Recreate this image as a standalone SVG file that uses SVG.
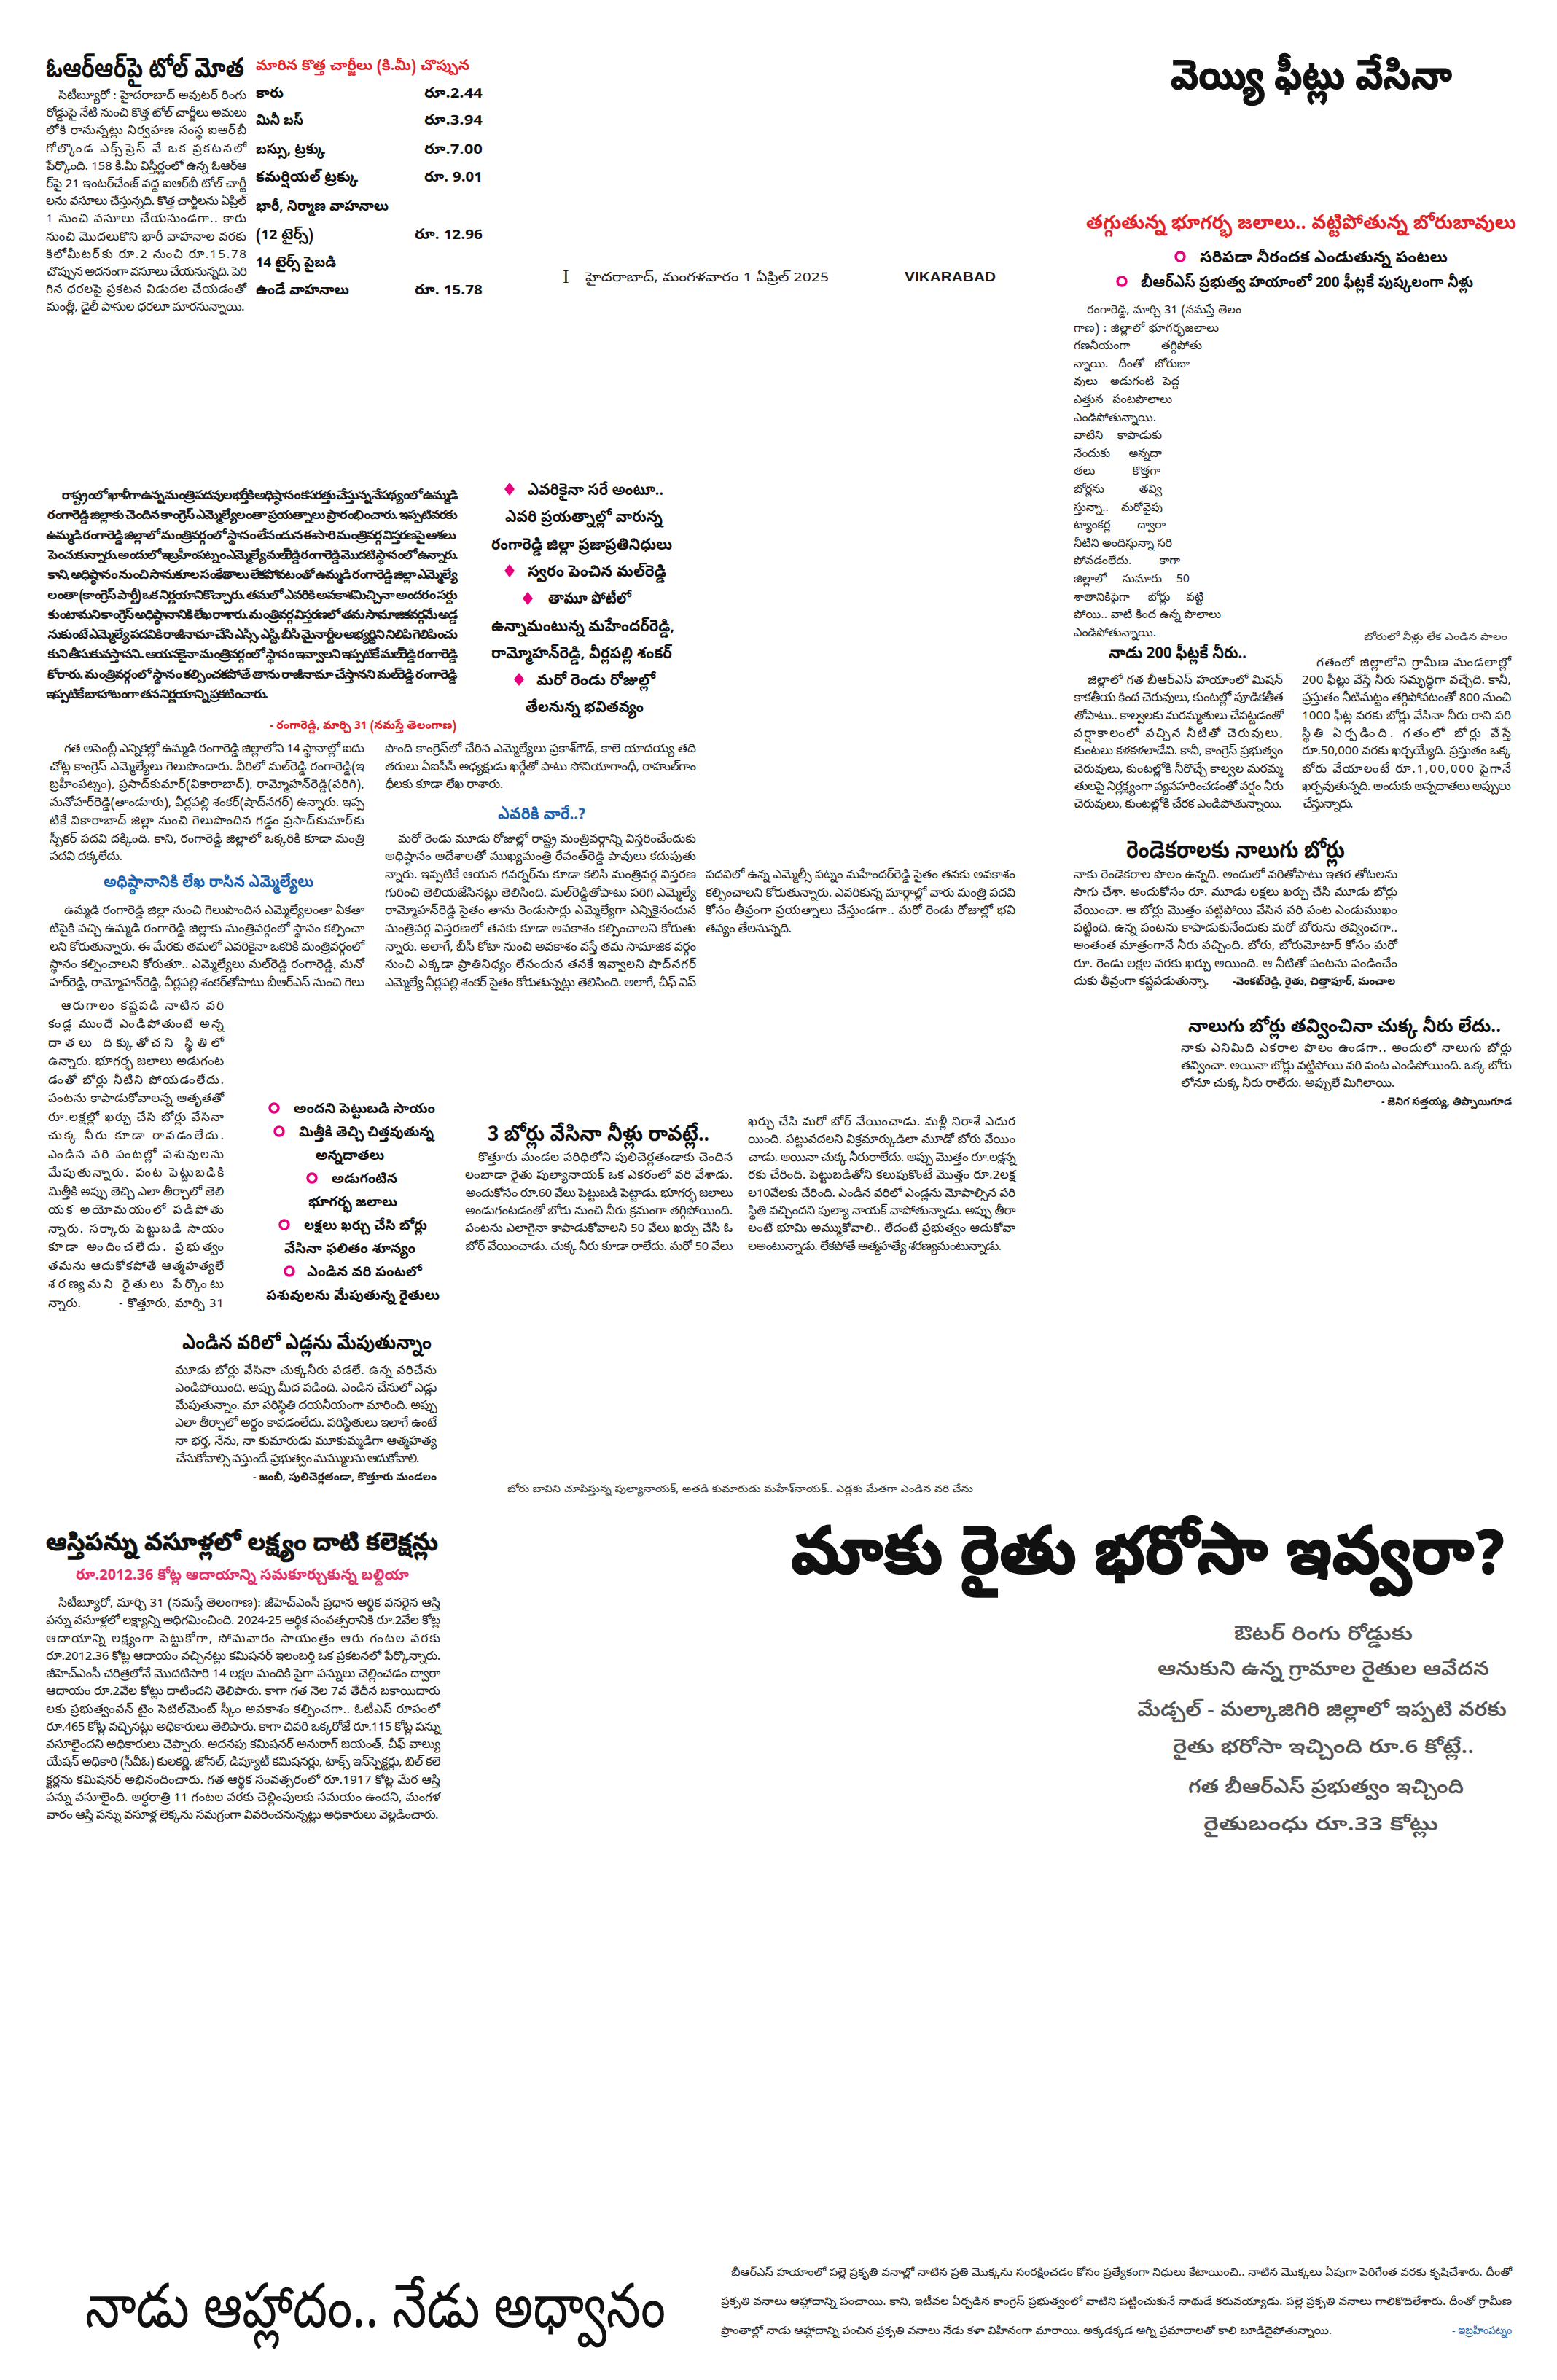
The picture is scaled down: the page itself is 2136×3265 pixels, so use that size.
<svg xmlns="http://www.w3.org/2000/svg" width="2136" height="3265" viewBox="0 0 2136 3265">
<style>
text{font-family:"Noto Sans Telugu","Noto Serif Telugu","Noto Sans",sans-serif;fill:#1c1c1c}
.hd{font-weight:700;fill:#111}
.hv{stroke:#111;stroke-width:1.2}
.bd{font-size:17px}
.nb{font-size:16px;fill:#333}
.bb{font-size:17.5px;font-weight:700}
.red{fill:#e3242b;font-weight:700}
.pink{fill:#e5336a;font-weight:700}
.blue{fill:#1b62b0;font-weight:700}
.gray{fill:#555;font-size:27px;font-weight:600}
.tb{font-size:20px;font-weight:700;fill:#111}
.bl{font-size:22px;font-weight:700;fill:#111}
.bl2{font-size:19.5px;font-weight:700;fill:#111}
.sg{font-size:15px;font-weight:700}
.cap{font-size:14px;fill:#333}
.dia{fill:#e6007e}
.cir{fill:none;stroke:#e6007e;stroke-width:3.5}
.e{text-anchor:end}
.m{text-anchor:middle}
</style>
<rect width="2136" height="3265" fill="#fff"/>

<g id="orr-toll">
<text class="hd" transform="translate(63,106) scale(1,1.35)" font-size="28" textLength="272" lengthAdjust="spacingAndGlyphs">ఓఆర్‌ఆర్‌పై టోల్ మోత</text>
<text class="red" x="351" y="96" font-size="20" textLength="293" lengthAdjust="spacingAndGlyphs">మారిన కొత్త చార్జీలు (కి.మీ) చొప్పున</text>
<g id="orr-table">
<text class="tb" x="351" y="134" textLength="38" lengthAdjust="spacingAndGlyphs">కారు</text>
<text class="tb" x="582" y="134" textLength="80" lengthAdjust="spacingAndGlyphs">రూ.2.44</text>
<text class="tb" x="351" y="171" textLength="65" lengthAdjust="spacingAndGlyphs">మినీ బస్</text>
<text class="tb" x="582" y="171" textLength="80" lengthAdjust="spacingAndGlyphs">రూ.3.94</text>
<text class="tb" x="351" y="211" textLength="95" lengthAdjust="spacingAndGlyphs">బస్సు, ట్రక్కు</text>
<text class="tb" x="582" y="211" textLength="80" lengthAdjust="spacingAndGlyphs">రూ.7.00</text>
<text class="tb" x="351" y="249" textLength="140" lengthAdjust="spacingAndGlyphs">కమర్షియల్ ట్రక్కు</text>
<text class="tb" x="582" y="249" textLength="80" lengthAdjust="spacingAndGlyphs">రూ. 9.01</text>
<text class="tb" x="351" y="289" textLength="182" lengthAdjust="spacingAndGlyphs">భారీ, నిర్మాణ వాహనాలు</text>
<text class="tb" x="351" y="328" textLength="79" lengthAdjust="spacingAndGlyphs">(12 టైర్స్)</text>
<text class="tb" x="569" y="328" textLength="93" lengthAdjust="spacingAndGlyphs">రూ. 12.96</text>
<text class="tb" x="351" y="366" textLength="110" lengthAdjust="spacingAndGlyphs">14 టైర్స్ పైబడి</text>
<text class="tb" x="351" y="404" textLength="128" lengthAdjust="spacingAndGlyphs">ఉండే వాహనాలు</text>
<text class="tb" x="569" y="404" textLength="93" lengthAdjust="spacingAndGlyphs">రూ. 15.78</text>
</g>
<g id="orr-body" class="bd">
<text x="80" y="136" textLength="258" lengthAdjust="spacing">సిటీబ్యూరో : హైదరాబాద్ అవుటర్ రింగు</text>
<text x="63" y="160" textLength="275" lengthAdjust="spacing">రోడ్డుపై నేటి నుంచి కొత్త టోల్ చార్జీలు అమలు</text>
<text x="63" y="184" textLength="275" lengthAdjust="spacing">లోకి రానున్నట్లు నిర్వహణ సంస్థ ఐఆర్‌బీ</text>
<text x="63" y="209" textLength="275" lengthAdjust="spacing">గోల్కొండ ఎక్స్‌ప్రెస్ వే ఒక ప్రకటనలో</text>
<text x="63" y="233" textLength="275" lengthAdjust="spacing">పేర్కొంది. 158 కి.మీ విస్తీర్ణంలో ఉన్న ఓఆర్‌ఆ</text>
<text x="63" y="257" textLength="275" lengthAdjust="spacing">ర్‌పై 21 ఇంటర్‌చేంజ్ వద్ద ఐఆర్‌బీ టోల్ చార్జీ</text>
<text x="63" y="281" textLength="275" lengthAdjust="spacing">లను వసూలు చేస్తున్నది. కొత్త చార్జీలను ఏప్రిల్</text>
<text x="63" y="305" textLength="275" lengthAdjust="spacing">1 నుంచి వసూలు చేయనుండగా.. కారు</text>
<text x="63" y="330" textLength="275" lengthAdjust="spacing">నుంచి మొదలుకొని భారీ వాహనాల వరకు</text>
<text x="63" y="354" textLength="275" lengthAdjust="spacing">కిలోమీటర్‌కు రూ.2 నుంచి రూ.15.78</text>
<text x="63" y="378" textLength="275" lengthAdjust="spacing">చొప్పున అదనంగా వసూలు చేయనున్నది. పెరి</text>
<text x="63" y="402" textLength="275" lengthAdjust="spacing">గిన ధరలపై ప్రకటన విడుదల చేయడంతో</text>
<text x="63" y="426" textLength="272" lengthAdjust="spacing">మంత్లీ, డైలీ పాసుల ధరలూ మారనున్నాయి.</text>
</g>
</g>

<g id="masthead">
<text x="772" y="388" font-size="26" style="font-family:'Liberation Serif',serif">I</text>
<text x="803" y="386" font-size="18" textLength="334" lengthAdjust="spacingAndGlyphs">హైదరాబాద్, మంగళవారం 1 ఏప్రిల్ 2025</text>
<text x="1241" y="386" font-size="19" textLength="125" lengthAdjust="spacingAndGlyphs" style="font-family:'Liberation Sans',sans-serif;font-weight:700">VIKARABAD</text>
</g>

<g id="vikarabad-borewells">
<text class="hd hv" x="1606" y="122" font-size="56" textLength="386" lengthAdjust="spacingAndGlyphs">వెయ్యి ఫీట్లు వేసినా</text>
<text class="red" x="1490" y="314" font-size="27" textLength="590" lengthAdjust="spacingAndGlyphs">తగ్గుతున్న భూగర్భ జలాలు.. వట్టిపోతున్న బోరుబావులు</text>
<circle class="cir" cx="1619" cy="352" r="6"/>
<text class="bl" x="1646" y="360" font-size="21" textLength="340" lengthAdjust="spacingAndGlyphs">సరిపడా నీరందక ఎండుతున్న పంటలు</text>
<circle class="cir" cx="1539" cy="386" r="6"/>
<text class="bl" x="1565" y="394" font-size="21" textLength="456" lengthAdjust="spacingAndGlyphs">బీఆర్ఎస్ ప్రభుత్వ హయాంలో 200 ఫీట్లకే పుష్కలంగా నీళ్లు</text>
<g id="vik-narrow" class="nb">
<text x="1491" y="430" textLength="212" lengthAdjust="spacing">రంగారెడ్డి, మార్చి 31 (నమస్తే తెలం</text>
<text x="1473" y="455" textLength="199" lengthAdjust="spacing">గాణ) : జిల్లాలో భూగర్భజలాలు</text>
<text x="1473" y="479">గణనీయంగా</text><text class="e" x="1649" y="479">తగ్గిపోతు</text>
<text x="1473" y="504">న్నాయి.</text><text class="m" x="1552" y="504">దీంతో</text><text class="e" x="1632" y="504">బోరుబా</text>
<text x="1473" y="528">వులు</text><text class="m" x="1553" y="528">అడుగంటి</text><text class="e" x="1618" y="528">పెద్ద</text>
<text x="1473" y="553">ఎత్తున</text><text class="e" x="1608" y="553">పంటపొలాలు</text>
<text x="1473" y="578">ఎండిపోతున్నాయి.</text>
<text x="1473" y="602">వాటిని</text><text class="e" x="1594" y="602">కాపాడుకు</text>
<text x="1473" y="627">నేందుకు</text><text class="e" x="1594" y="627">అన్నదా</text>
<text x="1473" y="651">తలు</text><text class="e" x="1592" y="651">కొత్తగా</text>
<text x="1473" y="676">బోర్లను</text><text class="e" x="1594" y="676">తవ్వి</text>
<text x="1473" y="701">స్తున్నా..</text><text class="e" x="1595" y="701">మరోవైపు</text>
<text x="1473" y="725">ట్యాంకర్ల</text><text class="e" x="1599" y="725">ద్వారా</text>
<text x="1473" y="750" textLength="135" lengthAdjust="spacing">నీటిని అందిస్తున్నా సరి</text>
<text x="1473" y="774">పోవడంలేదు.</text><text class="e" x="1619" y="774">కాగా</text>
<text x="1473" y="799">జిల్లాలో</text><text class="m" x="1567" y="799">సుమారు</text><text class="e" x="1632" y="799">50</text>
<text x="1473" y="824">శాతానికిపైగా</text><text class="m" x="1590" y="824">బోర్లు</text><text class="e" x="1651" y="824">వట్టి</text>
<text x="1473" y="848" textLength="202" lengthAdjust="spacing">పోయి.. వాటి కింద ఉన్న పొలాలు</text>
<text x="1473" y="873">ఎండిపోతున్నాయి.</text>
</g>
<text class="cap" x="1871" y="878" textLength="197" lengthAdjust="spacingAndGlyphs">బోరులో నీళ్లు లేక ఎండిన పాలం</text>
<text class="hd" x="1521" y="903" font-size="23" textLength="189" lengthAdjust="spacingAndGlyphs">నాడు 200 ఫీట్లకే నీరు..</text>
<g id="vik-left" class="bd">
<text x="1492" y="938" textLength="268" lengthAdjust="spacing">జిల్లాలో గత బీఆర్ఎస్ హయాంలో మిషన్</text>
<text x="1473" y="962" textLength="287" lengthAdjust="spacing">కాకతీయ కింద చెరువులు, కుంటల్లో పూడికతీత</text>
<text x="1473" y="987" textLength="287" lengthAdjust="spacing">తోపాటు.. కాల్వలకు మరమ్మతులు చేపట్టడంతో</text>
<text x="1473" y="1011" textLength="287" lengthAdjust="spacing">వర్షాకాలంలో వచ్చిన నీటితో చెరువులు,</text>
<text x="1473" y="1035" textLength="287" lengthAdjust="spacing">కుంటలు కళకళలాడేవి. కానీ, కాంగ్రెస్ ప్రభుత్వం</text>
<text x="1473" y="1060" textLength="287" lengthAdjust="spacing">చెరువులు, కుంటల్లోకి నీరొచ్చే కాల్వల మరమ్మ</text>
<text x="1473" y="1084" textLength="287" lengthAdjust="spacing">తులపై నిర్లక్ష్యంగా వ్యవహరించడంతో వర్షం నీరు</text>
<text x="1473" y="1108" textLength="285" lengthAdjust="spacing">చెరువులు, కుంటల్లోకి చేరక ఎండిపోతున్నాయి.</text>
</g>
<g id="vik-right" class="bd">
<text x="1806" y="914" textLength="267" lengthAdjust="spacing">గతంలో జిల్లాలోని గ్రామీణ మండలాల్లో</text>
<text x="1786" y="938" textLength="287" lengthAdjust="spacing">200 ఫీట్లు వేస్తే నీరు సమృద్ధిగా వచ్చేది. కానీ,</text>
<text x="1786" y="962" textLength="287" lengthAdjust="spacing">ప్రస్తుతం నీటిమట్టం తగ్గిపోవటంతో 800 నుంచి</text>
<text x="1786" y="987" textLength="287" lengthAdjust="spacing">1000 ఫీట్ల వరకు బోర్లు వేసినా నీరు రాని పరి</text>
<text x="1786" y="1011" textLength="287" lengthAdjust="spacing">స్థితి ఏర్పడింది. గతంలో బోర్లు వేస్తే</text>
<text x="1786" y="1035" textLength="287" lengthAdjust="spacing">రూ.50,000 వరకు ఖర్చయ్యేది. ప్రస్తుతం ఒక్క</text>
<text x="1786" y="1060" textLength="287" lengthAdjust="spacing">బోరు వేయాలంటే రూ.1,00,000 పైగానే</text>
<text x="1786" y="1084" textLength="287" lengthAdjust="spacing">ఖర్చవుతున్నది. అందుకు అన్నదాతలు అప్పులు</text>
<text x="1786" y="1108" textLength="69" lengthAdjust="spacing">చేస్తున్నారు.</text>
</g>
<g id="rendekaralu">
<text class="hd" x="1545" y="1177" font-size="33" textLength="300" lengthAdjust="spacingAndGlyphs">రెండెకరాలకు నాలుగు బోర్లు</text>
<g class="bd">
<text x="1473" y="1205" textLength="444" lengthAdjust="spacing">నాకు రెండెకరాల పొలం ఉన్నది. అందులో వరితోపాటు ఇతర తోటలను</text>
<text x="1473" y="1229" textLength="444" lengthAdjust="spacing">సాగు చేశా. అందుకోసం రూ. మూడు లక్షలు ఖర్చు చేసి మూడు బోర్లు</text>
<text x="1473" y="1254" textLength="444" lengthAdjust="spacing">వేయించా. ఆ బోర్లు మొత్తం వట్టిపోయి వేసిన వరి పంట ఎండుముఖం</text>
<text x="1473" y="1278" textLength="444" lengthAdjust="spacing">పట్టింది. ఉన్న పంటను కాపాడుకునేందుకు మరో బోరును తవ్వించగా..</text>
<text x="1473" y="1302" textLength="444" lengthAdjust="spacing">అంతంత మాత్రంగానే నీరు వచ్చింది. బోరు, బోరుమోటార్ కోసం మరో</text>
<text x="1473" y="1327" textLength="444" lengthAdjust="spacing">రూ. రెండు లక్షల వరకు ఖర్చు అయింది. ఆ నీటితో పంటను పండించేం</text>
<text x="1473" y="1351" textLength="185" lengthAdjust="spacing">దుకు తీవ్రంగా కష్టపడుతున్నా.</text>
</g>
<text class="sg" x="1691" y="1351" textLength="223" lengthAdjust="spacingAndGlyphs">-వెంకట్‌రెడ్డి, రైతు, చిత్తాపూర్, మంచాల</text>
</g>
<g id="nalugu-borlu">
<text class="hd" x="1630" y="1416" font-size="26" textLength="429" lengthAdjust="spacingAndGlyphs">నాలుగు బోర్లు తవ్వించినా చుక్క నీరు లేదు..</text>
<g class="bd">
<text x="1620" y="1443" textLength="454" lengthAdjust="spacing">నాకు ఎనిమిది ఎకరాల పొలం ఉండగా.. అందులో నాలుగు బోర్లు</text>
<text x="1620" y="1467" textLength="454" lengthAdjust="spacing">తవ్వించా. అయినా బోర్లు వట్టిపోయి వరి పంట ఎండిపోయింది. ఒక్క బోరు</text>
<text x="1620" y="1491" textLength="293" lengthAdjust="spacing">లోనూ చుక్క నీరు రాలేదు. అప్పులే మిగిలాయి.</text>
</g>
<text class="sg" x="1895" y="1516" textLength="179" lengthAdjust="spacingAndGlyphs">- జెనిగ సత్తయ్య, తిప్పాయిగూడ</text>
</g>
</g>

<g id="ministers">
<g id="min-intro" class="bb">
<text x="82" y="685" textLength="544" lengthAdjust="spacing">రాష్ట్రంలో ఖాళీగా ఉన్న మంత్రి పదవుల భర్తీకి అధిష్ఠానం కసరత్తు చేస్తున్న నేపథ్యంలో ఉమ్మడి</text>
<text x="63" y="712" textLength="563" lengthAdjust="spacing">రంగారెడ్డి జిల్లాకు చెందిన కాంగ్రెస్ ఎమ్మెల్యేలంతా ప్రయత్నాలు ప్రారంభించారు. ఇప్పటివరకు</text>
<text x="63" y="740" textLength="563" lengthAdjust="spacing">ఉమ్మడి రంగారెడ్డి జిల్లాలో మంత్రివర్గంలో స్థానం లేనందున ఈసారి మంత్రివర్గ విస్తరణపై ఆశలు</text>
<text x="63" y="767" textLength="563" lengthAdjust="spacing">పెంచుకున్నారు. అందులో ఇబ్రహీంపట్నం ఎమ్మెల్యే మల్‌రెడ్డి రంగారెడ్డి మొదటి స్థానంలో ఉన్నారు.</text>
<text x="63" y="794" textLength="563" lengthAdjust="spacing">కాని, అధిష్ఠానం నుంచి సానుకూల సంకేతాలు లేకపోవటంతో ఉమ్మడి రంగారెడ్డి జిల్లా ఎమ్మెల్యే</text>
<text x="63" y="822" textLength="563" lengthAdjust="spacing">లంతా (కాంగ్రెస్ పార్టీ) ఒక నిర్ణయానికొచ్చారు. తమలో ఎవరికి అవకాశమిచ్చినా అందరం సర్దు</text>
<text x="63" y="849" textLength="563" lengthAdjust="spacing">కుంటామని కాంగ్రెస్ అధిష్ఠానానికి లేఖ రాశారు. మంత్రివర్గ విస్తరణలో తమ సామాజికవర్గమే అడ్డ</text>
<text x="63" y="876" textLength="563" lengthAdjust="spacing">నుకుంటే ఎమ్మెల్యే పదవికి రాజీనామా చేసి ఎస్సీ, ఎస్టీ, బీసీ మైనార్టీల అభ్యర్థిని నిలిపి గెలిపించు</text>
<text x="63" y="903" textLength="563" lengthAdjust="spacing">కుని తీసుకువస్తానని.. ఆయనకైనా మంత్రివర్గంలో స్థానం ఇవ్వాలని ఇప్పటికే మల్‌రెడ్డి రంగారెడ్డి</text>
<text x="63" y="931" textLength="563" lengthAdjust="spacing">కోరారు. మంత్రివర్గంలో స్థానం కల్పించకపోతే తాను రాజీనామా చేస్తానని మల్‌రెడ్డి రంగారెడ్డి</text>
<text x="63" y="958" textLength="305" lengthAdjust="spacing">ఇప్పటికే బాహాటంగా తన నిర్ణయాన్ని ప్రకటించారు.</text>
</g>
<text class="red" x="370" y="1000" font-size="16" textLength="256" lengthAdjust="spacingAndGlyphs">- రంగారెడ్డి, మార్చి 31 (నమస్తే తెలంగాణ)</text>
<g id="min-bullets">
<polygon class="dia" points="699,662 706,671 699,680 692,671"/>
<text class="bl" x="724" y="679" textLength="186" lengthAdjust="spacingAndGlyphs">ఎవరికైనా సరే అంటూ..</text>
<text class="bl" x="693" y="716" textLength="216" lengthAdjust="spacingAndGlyphs">ఎవరి ప్రయత్నాల్లో వారున్న</text>
<text class="bl" x="674" y="754" textLength="248" lengthAdjust="spacingAndGlyphs">రంగారెడ్డి జిల్లా ప్రజాప్రతినిధులు</text>
<polygon class="dia" points="699,774 706,783 699,792 692,783"/>
<text class="bl" x="724" y="791" textLength="190" lengthAdjust="spacingAndGlyphs">స్వరం పెంచిన మల్‌రెడ్డి</text>
<polygon class="dia" points="724,812 731,821 724,830 717,821"/>
<text class="bl" x="752" y="828" textLength="114" lengthAdjust="spacingAndGlyphs">తామూ పోటీలో</text>
<text class="bl" x="674" y="866" textLength="251" lengthAdjust="spacingAndGlyphs">ఉన్నామంటున్న మహేందర్‌రెడ్డి,</text>
<text class="bl" x="674" y="903" textLength="248" lengthAdjust="spacingAndGlyphs">రామ్మోహన్‌రెడ్డి, వీర్లపల్లి శంకర్</text>
<polygon class="dia" points="712,923 719,932 712,941 705,932"/>
<text class="bl" x="736" y="940" textLength="163" lengthAdjust="spacingAndGlyphs">మరో రెండు రోజుల్లో</text>
<text class="bl" x="721" y="977" textLength="162" lengthAdjust="spacingAndGlyphs">తేలనున్న భవితవ్యం</text>
</g>
<g id="min-col1" class="bd">
<text x="88" y="1032" textLength="412" lengthAdjust="spacing">గత అసెంబ్లీ ఎన్నికల్లో ఉమ్మడి రంగారెడ్డి జిల్లాలోని 14 స్థానాల్లో ఐదు</text>
<text x="68" y="1057" textLength="432" lengthAdjust="spacing">చోట్ల కాంగ్రెస్ ఎమ్మెల్యేలు గెలుపొందారు. వీరిలో మల్‌రెడ్డి రంగారెడ్డి(ఇ</text>
<text x="68" y="1081" textLength="432" lengthAdjust="spacing">బ్రహీంపట్నం), ప్రసాద్‌కుమార్(వికారాబాద్), రామ్మోహన్‌రెడ్డి(పరిగి),</text>
<text x="68" y="1106" textLength="432" lengthAdjust="spacing">మనోహర్‌రెడ్డి(తాండూరు), వీర్లపల్లి శంకర్(షాద్‌నగర్) ఉన్నారు. ఇప్ప</text>
<text x="68" y="1131" textLength="432" lengthAdjust="spacing">టికే వికారాబాద్ జిల్లా నుంచి గెలుపొందిన గడ్డం ప్రసాద్‌కుమార్‌కు</text>
<text x="68" y="1156" textLength="432" lengthAdjust="spacing">స్పీకర్ పదవి దక్కింది. కాని, రంగారెడ్డి జిల్లాలో ఒక్కరికి కూడా మంత్రి</text>
<text x="68" y="1180" textLength="100" lengthAdjust="spacing">పదవి దక్కలేదు.</text>
<text class="blue" x="142" y="1217" font-size="23" textLength="288" lengthAdjust="spacingAndGlyphs">అధిష్ఠానానికి లేఖ రాసిన ఎమ్మెల్యేలు</text>
<text x="88" y="1254" textLength="412" lengthAdjust="spacing">ఉమ్మడి రంగారెడ్డి జిల్లా నుంచి గెలుపొందిన ఎమ్మెల్యేలంతా ఏకతా</text>
<text x="68" y="1279" textLength="432" lengthAdjust="spacing">టిపైకి వచ్చి ఉమ్మడి రంగారెడ్డి జిల్లాకు మంత్రివర్గంలో స్థానం కల్పించా</text>
<text x="68" y="1304" textLength="432" lengthAdjust="spacing">లని కోరుతున్నారు. ఈ మేరకు తమలో ఎవరికైనా ఒకరికి మంత్రివర్గంలో</text>
<text x="68" y="1328" textLength="432" lengthAdjust="spacing">స్థానం కల్పించాలని కోరుతూ.. ఎమ్మెల్యేలు మల్‌రెడ్డి రంగారెడ్డి, మనో</text>
<text x="68" y="1353" textLength="432" lengthAdjust="spacing">హర్‌రెడ్డి, రామ్మోహన్‌రెడ్డి, వీర్లపల్లి శంకర్‌తోపాటు బీఆర్ఎస్ నుంచి గెలు</text>
</g>
<g id="min-col2" class="bd">
<text x="528" y="1032" textLength="427" lengthAdjust="spacing">పొంది కాంగ్రెస్‌లో చేరిన ఎమ్మెల్యేలు ప్రకాశ్‌గౌడ్, కాలె యాదయ్య తది</text>
<text x="528" y="1057" textLength="427" lengthAdjust="spacing">తరులు ఏఐసీసీ అధ్యక్షుడు ఖర్గేతో పాటు సోనియాగాంధీ, రాహుల్‌గాం</text>
<text x="528" y="1081" textLength="162" lengthAdjust="spacing">ధీలకు కూడా లేఖ రాశారు.</text>
<text class="blue" x="683" y="1124" font-size="23" textLength="120" lengthAdjust="spacingAndGlyphs">ఎవరికి వారే..?</text>
<text x="546" y="1156" textLength="409" lengthAdjust="spacing">మరో రెండు మూడు రోజుల్లో రాష్ట్ర మంత్రివర్గాన్ని విస్తరించేందుకు</text>
<text x="528" y="1180" textLength="427" lengthAdjust="spacing">అధిష్ఠానం ఆదేశాలతో ముఖ్యమంత్రి రేవంత్‌రెడ్డి పావులు కదుపుతు</text>
<text x="528" y="1205" textLength="427" lengthAdjust="spacing">న్నారు. ఇప్పటికే ఆయన గవర్నర్‌ను కూడా కలిసి మంత్రివర్గ విస్తరణ</text>
<text x="528" y="1230" textLength="427" lengthAdjust="spacing">గురించి తెలియజేసినట్లు తెలిసింది. మల్‌రెడ్డితోపాటు పరిగి ఎమ్మెల్యే</text>
<text x="528" y="1254" textLength="427" lengthAdjust="spacing">రామ్మోహన్‌రెడ్డి సైతం తాను రెండుసార్లు ఎమ్మెల్యేగా ఎన్నికైనందున</text>
<text x="528" y="1279" textLength="427" lengthAdjust="spacing">మంత్రివర్గ విస్తరణలో తనకు కూడా అవకాశం కల్పించాలని కోరుతు</text>
<text x="528" y="1304" textLength="427" lengthAdjust="spacing">న్నారు. అలాగే, బీసీ కోటా నుంచి అవకాశం వస్తే తమ సామాజిక వర్గం</text>
<text x="528" y="1328" textLength="427" lengthAdjust="spacing">నుంచి ఎక్కడా ప్రాతినిధ్యం లేనందున తనకే ఇవ్వాలని షాద్‌నగర్</text>
<text x="528" y="1353" textLength="427" lengthAdjust="spacing">ఎమ్మెల్యే వీర్లపల్లి శంకర్ సైతం కోరుతున్నట్లు తెలిసింది. అలాగే, చీఫ్ విప్</text>
</g>
<g id="min-col3" class="bd">
<text x="968" y="1205" textLength="425" lengthAdjust="spacing">పదవిలో ఉన్న ఎమ్మెల్సీ పట్నం మహేందర్‌రెడ్డి సైతం తనకు అవకాశం</text>
<text x="968" y="1230" textLength="425" lengthAdjust="spacing">కల్పించాలని కోరుతున్నారు. ఎవరికున్న మార్గాల్లో వారు మంత్రి పదవి</text>
<text x="968" y="1254" textLength="425" lengthAdjust="spacing">కోసం తీవ్రంగా ప్రయత్నాలు చేస్తుండగా.. మరో రెండు రోజుల్లో భవి</text>
<text x="968" y="1279" textLength="118" lengthAdjust="spacing">తవ్యం తేలనున్నది.</text>
</g>
</g>

<g id="kothur-farmers">
<g id="kot-body" class="bd">
<text x="84" y="1385" textLength="223" lengthAdjust="spacing">ఆరుగాలం కష్టపడి నాటిన వరి</text>
<text x="66" y="1410" textLength="241" lengthAdjust="spacing">కండ్ల ముందే ఎండిపోతుంటే అన్న</text>
<text x="66" y="1436" textLength="241" lengthAdjust="spacing">దాతలు దిక్కుతోచని స్థితిలో</text>
<text x="66" y="1461" textLength="241" lengthAdjust="spacing">ఉన్నారు. భూగర్భ జలాలు అడుగంట</text>
<text x="66" y="1487" textLength="241" lengthAdjust="spacing">డంతో బోర్లు నీటిని పోయడంలేదు.</text>
<text x="66" y="1512" textLength="241" lengthAdjust="spacing">పంటను కాపాడుకోవాలన్న ఆతృతతో</text>
<text x="66" y="1538" textLength="241" lengthAdjust="spacing">రూ.లక్షల్లో ఖర్చు చేసి బోర్లు వేసినా</text>
<text x="66" y="1563" textLength="241" lengthAdjust="spacing">చుక్క నీరు కూడా రావడంలేదు.</text>
<text x="66" y="1589" textLength="241" lengthAdjust="spacing">ఎండిన వరి పంటల్లో పశువులను</text>
<text x="66" y="1614" textLength="241" lengthAdjust="spacing">మేపుతున్నారు. పంట పెట్టుబడికి</text>
<text x="66" y="1640" textLength="241" lengthAdjust="spacing">మిత్తీకి అప్పు తెచ్చి ఎలా తీర్చాలో తెలి</text>
<text x="66" y="1665" textLength="241" lengthAdjust="spacing">యక అయోమయంలో పడిపోతు</text>
<text x="66" y="1691" textLength="241" lengthAdjust="spacing">న్నారు. సర్కారు పెట్టుబడి సాయం</text>
<text x="66" y="1716" textLength="241" lengthAdjust="spacing">కూడా అందించలేదు. ప్రభుత్వం</text>
<text x="66" y="1742" textLength="241" lengthAdjust="spacing">తమను ఆదుకోకపోతే ఆత్మహత్యలే</text>
<text x="66" y="1767" textLength="241" lengthAdjust="spacing">శరణ్యమని రైతులు పేర్కొంటు</text>
<text x="66" y="1793" textLength="45" lengthAdjust="spacing">న్నారు.</text>
<text x="163" y="1793" textLength="144" lengthAdjust="spacing">- కొత్తూరు, మార్చి 31</text>
</g>
<g id="kot-bullets">
<circle class="cir" cx="376" cy="1520" r="6"/>
<text class="bl2" x="403" y="1527" textLength="194" lengthAdjust="spacingAndGlyphs">అందని పెట్టుబడి సాయం</text>
<circle class="cir" cx="383" cy="1552" r="6"/>
<text class="bl2" x="410" y="1559" textLength="185" lengthAdjust="spacingAndGlyphs">మిత్తీకి తెచ్చి చిత్తవుతున్న</text>
<text class="bl2" x="433" y="1591" textLength="94" lengthAdjust="spacingAndGlyphs">అన్నదాతలు</text>
<circle class="cir" cx="428" cy="1616" r="6"/>
<text class="bl2" x="455" y="1623" textLength="90" lengthAdjust="spacingAndGlyphs">అడుగంటిన</text>
<text class="bl2" x="423" y="1655" textLength="122" lengthAdjust="spacingAndGlyphs">భూగర్భ జలాలు</text>
<circle class="cir" cx="390" cy="1680" r="6"/>
<text class="bl2" x="417" y="1687" textLength="169" lengthAdjust="spacingAndGlyphs">లక్షలు ఖర్చు చేసి బోర్లు</text>
<text class="bl2" x="390" y="1719" textLength="180" lengthAdjust="spacingAndGlyphs">వేసినా ఫలితం శూన్యం</text>
<circle class="cir" cx="397" cy="1744" r="6"/>
<text class="bl2" x="421" y="1751" textLength="158" lengthAdjust="spacingAndGlyphs">ఎండిన వరి పంటలో</text>
<text class="bl2" x="365" y="1783" textLength="238" lengthAdjust="spacingAndGlyphs">పశువులను మేపుతున్న రైతులు</text>
</g>
<g id="three-bores">
<text class="hd" x="669" y="1565" font-size="30" textLength="304" lengthAdjust="spacingAndGlyphs">3 బోర్లు వేసినా నీళ్లు రావట్లే..</text>
<g class="bd">
<text x="656" y="1593" textLength="349" lengthAdjust="spacing">కొత్తూరు మండల పరిధిలోని పులిచెర్లతండాకు చెందిన</text>
<text x="638" y="1617" textLength="367" lengthAdjust="spacing">లంబాడా రైతు పుల్యానాయక్ ఒక ఎకరంలో వరి వేశాడు.</text>
<text x="638" y="1642" textLength="367" lengthAdjust="spacing">అందుకోసం రూ.60 వేలు పెట్టుబడి పెట్టాడు. భూగర్భ జలాలు</text>
<text x="638" y="1666" textLength="367" lengthAdjust="spacing">అండుగంటడంతో బోరు నుంచి నీరు క్రమంగా తగ్గిపోయింది.</text>
<text x="638" y="1690" textLength="367" lengthAdjust="spacing">పంటను ఎలాగైనా కాపాడుకోవాలని 50 వేలు ఖర్చు చేసి ఓ</text>
<text x="638" y="1715" textLength="367" lengthAdjust="spacing">బోర్ వేయించాడు. చుక్క నీరు కూడా రాలేదు. మరో 50 వేలు</text>
<text x="1026" y="1544" textLength="367" lengthAdjust="spacing">ఖర్చు చేసి మరో బోర్ వేయించాడు. మళ్లీ నిరాశే ఎదుర</text>
<text x="1026" y="1568" textLength="367" lengthAdjust="spacing">యింది. పట్టువదలని విక్రమార్కుడిలా మూడో బోరు వేయిం</text>
<text x="1026" y="1593" textLength="367" lengthAdjust="spacing">చాడు. అయినా చుక్క నీరురాలేదు. అప్పు మొత్తం రూ.లక్షన్న</text>
<text x="1026" y="1617" textLength="367" lengthAdjust="spacing">రకు చేరింది. పెట్టుబడితోని కలుపుకొంటే మొత్తం రూ.2లక్ష</text>
<text x="1026" y="1642" textLength="367" lengthAdjust="spacing">ల10వేలకు చేరింది. ఎండిన వరిలో ఎండ్లను మోపాల్సిన పరి</text>
<text x="1026" y="1666" textLength="367" lengthAdjust="spacing">స్థితి వచ్చిందని పుల్యా నాయక్ వాపోతున్నాడు. అప్పు తీరా</text>
<text x="1026" y="1690" textLength="367" lengthAdjust="spacing">లంటే భూమి అమ్ముకోవాలి.. లేదంటే ప్రభుత్వం ఆదుకోవా</text>
<text x="1026" y="1715" textLength="348" lengthAdjust="spacing">లఅంటున్నాడు. లేకపోతే ఆత్మహత్యే శరణ్యమంటున్నాడు.</text>
</g>
</g>
<g id="endina-varilo">
<text class="hd" x="250" y="1851" font-size="28" textLength="342" lengthAdjust="spacingAndGlyphs">ఎండిన వరిలో ఎడ్లను మేపుతున్నాం</text>
<g class="bd">
<text x="240" y="1885" textLength="359" lengthAdjust="spacing">మూడు బోర్లు వేసినా చుక్కనీరు పడలే. ఉన్న వరిచేను</text>
<text x="240" y="1909" textLength="359" lengthAdjust="spacing">ఎండిపోయింది. అప్పు మీద పడింది. ఎండిన చేనులో ఎడ్లు</text>
<text x="240" y="1933" textLength="359" lengthAdjust="spacing">మేపుతున్నాం. మా పరిస్థితి దయనీయంగా మారింది. అప్పు</text>
<text x="240" y="1957" textLength="359" lengthAdjust="spacing">ఎలా తీర్చాలో అర్థం కావడంలేదు. పరిస్థితులు ఇలాగే ఉంటే</text>
<text x="240" y="1982" textLength="359" lengthAdjust="spacing">నా భర్త, నేను, నా కుమారుడు మూకుమ్మడిగా ఆత్మహత్య</text>
<text x="240" y="2006" textLength="334" lengthAdjust="spacing">చేసుకోవాల్సి వస్తుందే. ప్రభుత్వం మమ్ములను ఆదుకోవాలి.</text>
</g>
<text class="sg" x="347" y="2031" textLength="252" lengthAdjust="spacingAndGlyphs">- జంబీ, పులిచెర్లతండా, కొత్తూరు మండలం</text>
</g>
<text class="cap" x="696" y="2047" textLength="639" lengthAdjust="spacingAndGlyphs">బోరు బావిని చూపిస్తున్న పుల్యానాయక్, అతడి కుమారుడు మహేశ్‌నాయక్.. ఎడ్లకు మేతగా ఎండిన వరి చేను</text>
</g>

<g id="property-tax">
<text class="hd hv" x="63" y="2127" font-size="34" textLength="538" lengthAdjust="spacingAndGlyphs" style="stroke-width:0.8">ఆస్తిపన్ను వసూళ్లలో లక్ష్యం దాటి కలెక్షన్లు</text>
<text class="pink" x="104" y="2167" font-size="21" textLength="457" lengthAdjust="spacingAndGlyphs">రూ.2012.36 కోట్ల ఆదాయాన్ని సమకూర్చుకున్న బల్దియా</text>
<g class="bd">
<text x="80" y="2204" textLength="524" lengthAdjust="spacing">సిటీబ్యూరో, మార్చి 31 (నమస్తే తెలంగాణ): జీహెచ్ఎంసీ ప్రధాన ఆర్థిక వనరైన ఆస్తి</text>
<text x="63" y="2228" textLength="541" lengthAdjust="spacing">పన్ను వసూళ్లలో లక్ష్యాన్ని అధిగమించింది. 2024-25 ఆర్థిక సంవత్సరానికి రూ.2వేల కోట్ల</text>
<text x="63" y="2253" textLength="541" lengthAdjust="spacing">ఆదాయాన్ని లక్ష్యంగా పెట్టుకోగా, సోమవారం సాయంత్రం ఆరు గంటల వరకు</text>
<text x="63" y="2277" textLength="541" lengthAdjust="spacing">రూ.2012.36 కోట్ల ఆదాయం వచ్చినట్లు కమిషనర్ ఇలంబర్తి ఒక ప్రకటనలో పేర్కొన్నారు.</text>
<text x="63" y="2301" textLength="541" lengthAdjust="spacing">జీహెచ్ఎంసీ చరిత్రలోనే మొదటిసారి 14 లక్షల మందికి పైగా పన్నులు చెల్లించడం ద్వారా</text>
<text x="63" y="2325" textLength="541" lengthAdjust="spacing">ఆదాయం రూ.2వేల కోట్లు దాటిందని తెలిపారు. కాగా గత నెల 7వ తేదీన బకాయిదారు</text>
<text x="63" y="2350" textLength="541" lengthAdjust="spacing">లకు ప్రభుత్వంవన్ టైం సెటిల్‌మెంట్ స్కీం అవకాశం కల్పించగా.. ఓటీఎస్ రూపంలో</text>
<text x="63" y="2374" textLength="541" lengthAdjust="spacing">రూ.465 కోట్ల వచ్చినట్లు అధికారులు తెలిపారు. కాగా చివరి ఒక్కరోజే రూ.115 కోట్ల పన్ను</text>
<text x="63" y="2398" textLength="541" lengthAdjust="spacing">వసూలైందని అధికారులు చెప్పారు. అదనపు కమిషనర్ అనురాగ్ జయంత్, చీఫ్ వాల్యు</text>
<text x="63" y="2422" textLength="541" lengthAdjust="spacing">యేషన్ అధికారి (సీవీఓ) కులకర్ణి, జోనల్, డిప్యూటీ కమిషనర్లు, టాక్స్ ఇన్‌స్పెక్టర్లు, బిల్ కలె</text>
<text x="63" y="2447" textLength="541" lengthAdjust="spacing">క్టర్లను కమిషనర్ అభినందించారు. గత ఆర్థిక సంవత్సరంలో రూ.1917 కోట్ల మేర ఆస్తి</text>
<text x="63" y="2471" textLength="541" lengthAdjust="spacing">పన్ను వసూలైంది. అర్ధరాత్రి 11 గంటల వరకు చెల్లింపులకు సమయం ఉందని, మంగళ</text>
<text x="63" y="2495" textLength="538" lengthAdjust="spacing">వారం ఆస్తి పన్ను వసూళ్ల లెక్కను సమగ్రంగా వివరించనున్నట్లు అధికారులు వెల్లడించారు.</text>
</g>
</g>

<g id="rythu-bharosa">
<text class="hd hv" x="1085" y="2158" font-size="90" textLength="979" lengthAdjust="spacingAndGlyphs" style="stroke-width:2.5">మాకు రైతు భరోసా ఇవ్వరా?</text>
<text class="gray" x="1693" y="2250" textLength="245" lengthAdjust="spacingAndGlyphs">ఔటర్ రింగు రోడ్డుకు</text>
<text class="gray" x="1588" y="2298" textLength="455" lengthAdjust="spacingAndGlyphs">ఆనుకుని ఉన్న గ్రామాల రైతుల ఆవేదన</text>
<text class="gray" x="1560" y="2354" textLength="507" lengthAdjust="spacingAndGlyphs">మేడ్చల్ - మల్కాజిగిరి జిల్లాలో ఇప్పటి వరకు</text>
<text class="gray" x="1609" y="2405" textLength="413" lengthAdjust="spacingAndGlyphs">రైతు భరోసా ఇచ్చింది రూ.6 కోట్లే..</text>
<text class="gray" x="1630" y="2460" textLength="378" lengthAdjust="spacingAndGlyphs">గత బీఆర్ఎస్ ప్రభుత్వం ఇచ్చింది</text>
<text class="gray" x="1651" y="2511" textLength="322" lengthAdjust="spacingAndGlyphs">రైతుబంధు రూ.33 కోట్లు</text>
</g>

<g id="nature-parks">
<text transform="translate(117,3192) scale(1,1.35)" font-size="62" textLength="796" lengthAdjust="spacingAndGlyphs" style="fill:#111">నాడు ఆహ్లాదం.. నేడు అధ్వానం</text>
<text x="1003" y="3122" font-size="15" textLength="1071" lengthAdjust="spacingAndGlyphs">బీఆర్ఎస్ హయాంలో పల్లె ప్రకృతి వనాల్లో నాటిన ప్రతి మొక్కను సంరక్షించడం కోసం ప్రత్యేకంగా నిధులు కేటాయించి.. నాటిన మొక్కలు ఏపుగా పెరిగేంత వరకు కృషిచేశారు. దీంతో</text>
<text x="989" y="3162" font-size="15" textLength="1085" lengthAdjust="spacingAndGlyphs">ప్రకృతి వనాలు ఆహ్లాదాన్ని పంచాయి. కాని, ఇటీవల ఏర్పడిన కాంగ్రెస్ ప్రభుత్వంలో వాటిని పట్టించుకునే నాథుడే కరువయ్యాడు. పల్లె ప్రకృతి వనాలు గాలికొదిలేశారు. దీంతో గ్రామీణ</text>
<text x="989" y="3202" font-size="15" textLength="838" lengthAdjust="spacingAndGlyphs">ప్రాంతాల్లో నాడు ఆహ్లాదాన్ని పంచిన ప్రకృతి వనాలు నేడు కళా విహీనంగా మారాయి. అక్కడక్కడ అగ్ని ప్రమాదాలతో కాలి బూడిదైపోతున్నాయి.</text>
<text class="blue" x="1992" y="3202" font-size="15" textLength="82" lengthAdjust="spacingAndGlyphs" style="font-weight:400">- ఇబ్రహీంపట్నం</text>
</g>
</svg>
